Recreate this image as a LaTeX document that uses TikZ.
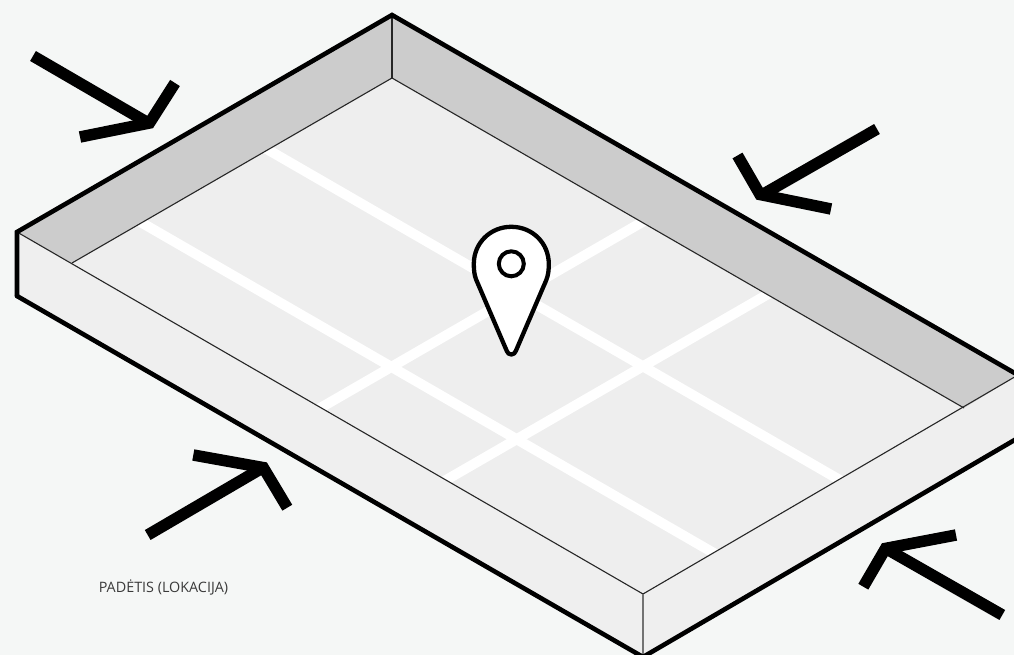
\documentclass[tikz,border=0pt]{standalone}
\usepackage{fontspec}
\setmainfont{Open Sans}
\definecolor{bg}{HTML}{F5F7F6}
\definecolor{wall}{HTML}{CCCCCC}
\definecolor{floorc}{HTML}{EEEEEE}
\definecolor{rim}{HTML}{EFEFEF}
\definecolor{txt}{HTML}{3A3A3A}
\tikzset{
  thickedge/.style={black,line width=4.6pt,line join=miter,line cap=round},
  thinedge/.style={black!85,line width=1.1pt},
  road/.style={white,line width=10pt},
  pusher/.style={black,line width=11.5pt,line join=miter,line cap=butt,miter limit=10},
  pinline/.style={black,line width=4.3pt,fill=white,line join=round}
}
\begin{document}
\begin{tikzpicture}[x=1pt,y=-1pt]
\useasboundingbox (0,0) rectangle (1014,655);
\clip (0,0) rectangle (1014,655);
\fill[bg] (0,0) rectangle (1014,655);
% coordinates of the box
\coordinate (T) at (392,15);
\coordinate (L) at (17,232);
\coordinate (LB) at (17,296);
\coordinate (B) at (643,657);
\coordinate (BI) at (643,594);
\coordinate (R) at (1018,375);
\coordinate (RB) at (1018,438);
\coordinate (IT) at (392,78);
\coordinate (IL) at (72,263);
\coordinate (IR) at (964,408);
% surfaces
\fill[rim] (L) -- (LB) -- (B) -- (RB) -- (R) -- (IR) -- (BI) -- (IL) -- cycle;
\fill[wall] (L) -- (T) -- (R) -- (IR) -- (IT) -- (IL) -- cycle;
\fill[floorc] (IT) -- (IR) -- (BI) -- (IL) -- cycle;
% roads, cut off by the floor edges
\begin{scope}
\clip (IT) -- (IR) -- (BI) -- (IL) -- cycle;
\draw[road] (130,216) -- (725,559.5);
\draw[road] (258,144) -- (850,485.9);
\draw[road] (310,413.9) -- (650,217.6);
\draw[road] (440,483.5) -- (780,287.2);
\end{scope}
% thin edges
\draw[thinedge] (L) -- (BI) -- (R);
\draw[thinedge] (IL) -- (IT) -- (IR);
\draw[thinedge] (T) -- (IT);
\draw[black!55,line width=1.6pt] (BI) -- (B);
% thick outline
\draw[thickedge] (LB) -- (L) -- (T) -- (R);
\draw[thickedge] (LB) -- (B) -- (RB);
% pin
\draw[pinline] (511.3,354.5)
  .. controls (508.8,354.5) and (507.8,353) .. (506.8,351)
  -- (476.3,280)
  .. controls (474.3,275) and (473.8,270) .. (473.8,264)
  .. controls (473.8,243) and (490.3,226.8) .. (511.3,226.8)
  .. controls (532.3,226.8) and (548.8,243) .. (548.8,264)
  .. controls (548.8,270) and (548.3,275) .. (546.3,280)
  -- (515.8,351)
  .. controls (514.8,353) and (513.8,354.5) .. (511.3,354.5) -- cycle;
\draw[black,line width=4pt] (511.3,263.8) circle (12.5);
% arrows
\draw[pusher] (33,56) -- (150,124);
\draw[pusher] (175,83) -- (149.5,123) -- (80,137);
\draw[pusher] (877,129) -- (760,196);
\draw[pusher] (737.5,155.5) -- (760,194.5) -- (831,209);
\draw[pusher] (147.7,535) -- (264,467);
\draw[pusher] (193.3,455) -- (263.3,467.6) -- (287.3,507.7);
\draw[pusher] (1002.3,615) -- (885,548);
\draw[pusher] (863.3,586.7) -- (885.6,548.4) -- (956,535);
% label
\node[text=txt,font=\fontsize{14.35}{16}\selectfont,anchor=center,inner sep=0pt] (label) at (163.5,587) {PADĖTIS (LOKACIJA)};
\end{tikzpicture}
\end{document}
